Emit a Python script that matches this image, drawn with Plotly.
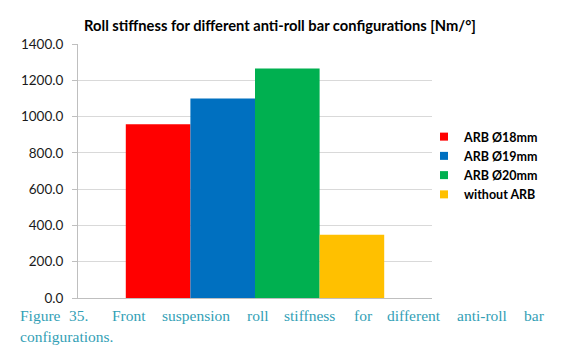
import plotly.graph_objects as go

series = ["ARB Ø18mm", "ARB Ø19mm", "ARB Ø20mm", "without ARB"]
values = [957, 1100, 1265, 348]
colors = ["#FF0000", "#0070C0", "#00B050", "#FFC000"]
category = [""]
y_ticks = [0, 200, 400, 600, 800, 1000, 1200, 1400]

title_text = "Roll stiffness for different anti-roll bar configurations [Nm/°]"
caption_line1 = ["Figure", "35.", "Front", "suspension", "roll", "stiffness",
                 "for", "different", "anti-roll", "bar"]
caption_line1_x = [18, 67, 110, 160, 245, 282, 352, 385, 455, 522]
caption_line2 = "configurations."

W, H = 567, 354
L, R, T, B = 78, 432, 43.5, 298

def px_x(px):
    return (px - L) / (R - L)

def px_y(py):
    return (B - py) / (B - T)

fig = go.Figure()
for name, v, c in zip(series, values, colors):
    fig.add_trace(go.Bar(x=category, y=[v], name=name, marker_color=c,
                         marker_line_width=0, showlegend=False))
for name, c in zip(series, colors):
    fig.add_trace(go.Scatter(x=[None], y=[None], mode="markers", name=name,
                             marker=dict(symbol="square", size=8, color=c)))

cap_font = dict(family="Liberation Serif", size=15.5, color="#339FB6")
annotations = []
for w, x in zip(caption_line1, caption_line1_x):
    annotations.append(dict(text=w, x=px_x(x), y=px_y(316), xref="paper", yref="paper",
                            xanchor="left", yanchor="middle", showarrow=False, font=cap_font))
annotations.append(dict(text=caption_line2, x=px_x(18), y=px_y(337), xref="paper", yref="paper",
                        xanchor="left", yanchor="middle", showarrow=False, font=cap_font))

fig.update_layout(
    width=W, height=H,
    margin=dict(l=L, r=W - R, t=T, b=H - B, autoexpand=False),
    paper_bgcolor="white", plot_bgcolor="white",
    barmode="group", bargap=0.27, bargroupgap=0,
    title=dict(text="<b>" + title_text + "</b>", x=280 / W, xanchor="center",
               y=1 - 26 / H, yanchor="middle", yref="container",
               font=dict(family="Lato", size=14.7, color="#000000")),
    xaxis=dict(showticklabels=False, showgrid=False, zeroline=False,
               showline=True, linecolor="#BFBFBF", linewidth=1, ticks=""),
    yaxis=dict(range=[0, 1400], tickvals=y_ticks, tickformat=".1f",
               showgrid=True, gridcolor="#D9D9D9", gridwidth=1,
               zeroline=False, showline=True, linecolor="#BFBFBF", linewidth=1,
               ticks="outside", ticklen=5, tickcolor="#BFBFBF", ticklabelstandoff=6,
               tickfont=dict(family="Lato", size=13.5, color="#1A1A1A")),
    legend=dict(x=424 / W, y=1 - 122 / H, xref="container", yref="container",
                xanchor="left", yanchor="top", bgcolor="rgba(0,0,0,0)",
                font=dict(family="Lato", size=12.5, color="#000000", weight="bold"),
                itemwidth=30, tracegroupgap=0),
    annotations=annotations,
)

fig.write_html("out.html")
